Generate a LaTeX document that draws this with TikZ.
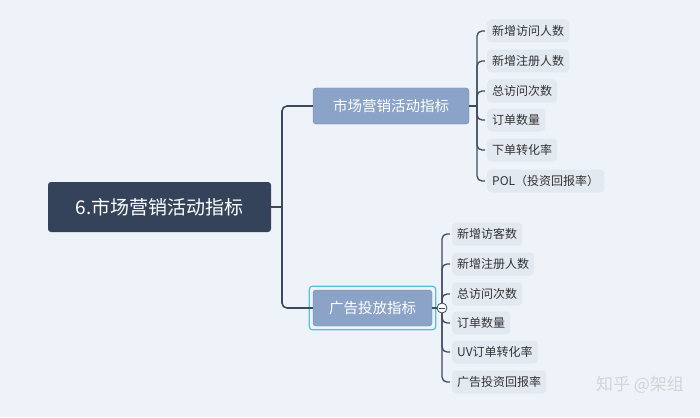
\documentclass[tikz,border=0pt]{standalone}
\usepackage{fontspec}
\setmainfont{Noto Sans CJK SC}
\definecolor{bgcol}{HTML}{EEF3FA}
\definecolor{rootcol}{HTML}{34435A}
\definecolor{branchcol}{HTML}{8BA3C7}
\definecolor{leafcol}{HTML}{E3E9F1}
\definecolor{linecol}{HTML}{3D4A5C}
\definecolor{selcol}{HTML}{55C1D9}
\begin{document}
\begin{tikzpicture}[x=1pt, y=-1pt,
  rootbox/.style={fill=rootcol, text=white, rounded corners=3pt, minimum width=223pt, minimum height=50pt, font=\fontsize{19}{22}\selectfont},
  branchbox/.style={fill=branchcol, draw=branchcol!85!black, text=white, rounded corners=3pt, minimum height=36pt, font=\fontsize{14.5}{17}\selectfont},
  leafbox/.style={fill=leafcol, text=black!80, rounded corners=4pt, anchor=west, minimum height=23pt, inner xsep=5pt, font=\fontsize{12}{14}\selectfont},
  link/.style={draw=linecol, line width=1.6pt, rounded corners=5pt}]
  \fill[bgcol] (0,0) rectangle (700,417);
  % main topic and the two branches
  \node[rootbox] (root) at (159.5,207) {6.市场营销活动指标};
  \node[branchbox, minimum width=156pt] (mkt) at (391,106) {市场营销活动指标};
  \node[branchbox, minimum width=119pt] (ads) at (372.5,308) {广告投放指标};
  \draw[selcol, line width=1.2pt, rounded corners=3pt] ([xshift=-3.5pt,yshift=3.5pt]ads.north west) rectangle ([xshift=3.5pt,yshift=-3.5pt]ads.south east);
  \coordinate (j0) at (282,207);
  \draw[link, rounded corners=0pt] (root.east) -- (j0);
  \draw[link] (j0) |- (mkt.west);
  \draw[link] (j0) |- (ads.west);
  % first branch
  \node[leafbox] (m1) at (487,31) {新增访问人数};
  \node[leafbox] (m2) at (487,61) {新增注册人数};
  \node[leafbox] (m3) at (487,91) {总访问次数};
  \node[leafbox] (m4) at (487,120) {订单数量};
  \node[leafbox] (m5) at (487,150) {下单转化率};
  \node[leafbox] (m6) at (487,181) {POL（投资回报率）};
  \coordinate (j1) at (477,106);
  \draw[link, line width=1.3pt, rounded corners=0pt] (mkt.east) -- (j1);
  \foreach \n in {m1,m2,m3,m4,m5,m6}
    \draw[link, line width=1.3pt] (j1) |- ([xshift=-2pt]\n.west);
  % second branch
  \node[leafbox] (a1) at (452,234) {新增访客数};
  \node[leafbox] (a2) at (452,264) {新增注册人数};
  \node[leafbox] (a3) at (452,294) {总访问次数};
  \node[leafbox] (a4) at (452,323) {订单数量};
  \node[leafbox] (a5) at (452,352) {UV订单转化率};
  \node[leafbox] (a6) at (452,382) {广告投资回报率};
  \coordinate (j2) at (442,308);
  \draw[link, line width=1.3pt, rounded corners=0pt] (ads.east) -- (j2);
  \foreach \n in {a1,a2,a3,a4,a5,a6}
    \draw[link, line width=1.3pt] (j2) |- ([xshift=-2pt]\n.west);
  \node[circle, draw=linecol, fill=white, line width=0.8pt, inner sep=0pt, minimum size=10pt] (fold) at (j2) {};
  \draw[linecol, line width=0.8pt] ([xshift=-3pt]fold.center) -- ([xshift=3pt]fold.center);
  % watermark
  \node[text=black!17, font=\fontsize{17}{19}\selectfont] (mark) at (640,385) {知乎 @架组};
\end{tikzpicture}
\end{document}
